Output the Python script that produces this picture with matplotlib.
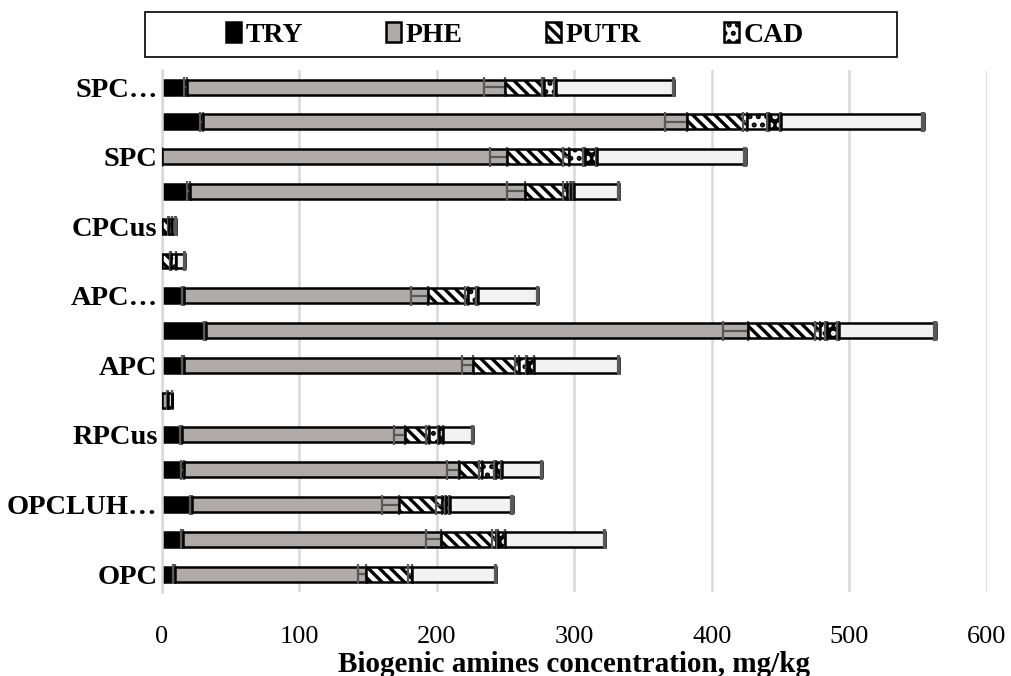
import matplotlib.pyplot as plt
import numpy as np
from matplotlib.patches import Rectangle

plt.rcParams['font.family'] = ['Liberation Serif', 'DejaVu Serif']
plt.rcParams['hatch.linewidth'] = 2.4

# rows from bottom to top, only every other label is shown on the axis
labels = ['OPC', '', 'OPCLUH…', '', 'RPCus', '', 'APC', '', 'APC…', '', 'CPCus', '', 'SPC', '', 'SPC…']

# segment values (mg/kg)
try_vals = [9.4, 15.5, 22.3, 16.0, 14.7, 0, 16.5, 32.5, 16.5, 0, 0, 20.3, 0.5, 30.0, 18.0]
phe_vals = [139.2, 187.6, 150.5, 200.4, 162.5, 4.5, 210.1, 394.0, 177.4, 0, 0, 244.0, 250.3, 352.2, 231.8]
putr_vals = [33.4, 40.0, 31.0, 16.5, 17.0, 0, 33.4, 52.5, 28.6, 7.0, 5.0, 30.7, 45.2, 43.6, 28.4]
cad_vals = [0, 1.5, 3.0, 10.2, 7.7, 3.3, 5.8, 4.6, 7.3, 3.6, 2.5, 2.5, 11.7, 16.2, 8.4]
his_vals = [0, 5.2, 2.9, 4.3, 2.9, 0, 5.1, 8.8, 0, 0, 0, 2.0, 9.2, 8.7, 0]
tyr_vals = [61.1, 72.6, 45.4, 29.5, 21.8, 0, 61.7, 70.9, 44.0, 6.1, 2.7, 33.1, 107.7, 103.4, 86.1]

# error bars (standard deviations)
try_err = [1.5, 1.5, 2.0, 2.0, 1.5, 0, 2.0, 2.0, 2.0, 0, 0, 2.0, 0.5, 2.5, 2.0]
phe_err = [6.0, 11.0, 12.8, 9.0, 8.5, 0.5, 8.2, 18.4, 12.6, 0, 0, 13.5, 12.0, 16.0, 15.8]
putr_err = [3.0, 3.0, 4.0, 2.0, 2.0, 0, 3.0, 4.0, 2.0, 0.8, 0.5, 3.0, 4.0, 3.0, 2.0]
cad_err = [0, 0.5, 0.5, 1.5, 1.0, 0.5, 0.8, 1.0, 1.0, 0.5, 0.3, 0.5, 1.5, 1.5, 1.0]
his_err = [0, 0.5, 0.5, 0.5, 0.5, 0, 0.5, 1.0, 0, 0, 0, 0.5, 1.0, 1.0, 0]
tyr_err = [1.0, 1.0, 1.0, 1.0, 1.0, 0, 1.0, 1.5, 1.0, 0.5, 0.3, 1.0, 1.5, 1.5, 1.0]

names = ['TRY', 'PHE', 'PUTR', 'CAD', 'HIS', 'TYR']

fig = plt.figure(figsize=(10.11, 6.76), dpi=100)
ax = fig.add_axes([0.160, 0.125, 0.816, 0.772])

y = np.arange(len(labels))
left = np.zeros(len(labels))
h = 0.43

series = [
    (try_vals, try_err, 'black', None),
    (phe_vals, phe_err, '#b0aba8', None),
    (putr_vals, putr_err, 'white', '\\\\\\'),
    (cad_vals, cad_err, 'white', '..'),
    (his_vals, his_err, 'black', '..'),
    (tyr_vals, tyr_err, '#f2f2f2', None),
]

handles = []
for i, (vals, errs, fc, hatch) in enumerate(series):
    vals = np.array(vals, dtype=float)
    errs = np.array(errs, dtype=float)
    z = 2 + 2 * i
    if names[i] == 'HIS':
        # black with white dots
        ax.barh(y, vals, left=left, height=h, color='black', edgecolor='white',
                hatch=hatch, linewidth=0, zorder=z)
        b = ax.barh(y, vals, left=left, height=h, fill=False, edgecolor='black',
                    linewidth=1.8, zorder=z)
    else:
        b = ax.barh(y, vals, left=left, height=h, color=fc, edgecolor='black',
                    hatch=hatch, linewidth=1.8, zorder=z)
    handles.append(b)
    ends = left + vals
    m = (vals > 0) & (errs > 0)
    ax.errorbar(ends[m], y[m], xerr=[errs[m], np.zeros(m.sum())], fmt='none',
                ecolor='#595959', elinewidth=1.6, capsize=7, capthick=1.6, zorder=z + 1)
    left = ends

ax.set_xlim(0, 600)
ax.set_ylim(-0.5, len(labels) - 0.5)
ax.set_xticks(np.arange(0, 601, 100))
ax.set_yticks(y)
ax.set_yticklabels(labels, fontsize=20.5, fontweight='bold')
ax.tick_params(axis='both', length=0)
ax.tick_params(axis='x', labelsize=19, pad=25)
ax.tick_params(axis='y', pad=3)
ax.grid(axis='x', color='#d9d9d9', linewidth=1.8, zorder=0)
ax.set_axisbelow(True)
for s in ['top', 'right', 'bottom']:
    ax.spines[s].set_visible(False)
ax.spines['left'].set_color('#d9d9d9')
ax.spines['left'].set_linewidth(1.8)
ax.set_xlabel('Biogenic amines concentration, mg/kg', fontsize=21, fontweight='bold', labelpad=2)

# legend with box
fig.patches.append(Rectangle((145 / 1011, 1 - 57 / 676), 752 / 1011, 45 / 676, fill=False,
                             edgecolor='black', linewidth=1.2, transform=fig.transFigure))
fig.legend(handles[:4], names[:4], loc='center left', bbox_to_anchor=(201 / 1011, 1 - 35 / 676),
           ncol=4, frameon=False, columnspacing=3.0, handletextpad=0.15,
           handlelength=0.55, handleheight=0.7, prop={'weight': 'bold', 'size': 20})

fig.savefig('out.png', dpi=100)
